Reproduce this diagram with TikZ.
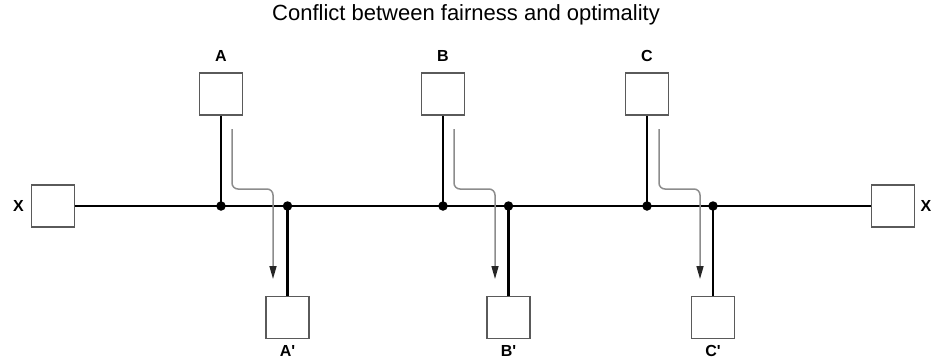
\documentclass[tikz,border=0pt]{standalone}
\usepackage{fontspec}
\setmainfont{Liberation Sans}
\usetikzlibrary{arrows.meta}
\definecolor{boxgray}{HTML}{5A5A5A}
\definecolor{flowgray}{HTML}{8C8C8C}
\begin{document}
\begin{tikzpicture}[x=1pt,y=-1pt,
  station/.style={draw=boxgray, line width=1.6pt, fill=white,
    minimum width=43pt, minimum height=42pt, inner sep=0pt},
  bus/.style={line width=2.2pt, draw=black},
  tap/.style={circle, fill=black, inner sep=0pt, minimum size=9.5pt},
  flow/.style={draw=flowgray, line width=1.5pt, rounded corners=6pt,
    -{Triangle[length=13pt,width=7pt,color=black!85]}},
  lbl/.style={font=\fontsize{16}{16}\selectfont\bfseries, inner sep=0pt}]
\useasboundingbox (0,0) rectangle (933,360);

% title
\node[font=\fontsize{22}{22}\selectfont, anchor=base] (title) at (466,20) {Conflict between fairness and optimality};

% end stations
\node[station] (X1) at (53,206) {};
\node[station] (X2) at (893,206) {};
\node[lbl] (lX1) at (18.5,206) {X};
\node[lbl] (lX2) at (926,206) {X};

% senders
\node[station] (A) at (221,94) {};
\node[station] (B) at (443,94) {};
\node[station] (C) at (647,94) {};
\node[lbl] (lA) at (221,56) {A};
\node[lbl] (lB) at (443,56) {B};
\node[lbl] (lC) at (647,56) {C};

% receivers
\node[station] (Ap) at (287.5,317.5) {};
\node[station] (Bp) at (508.5,317.5) {};
\node[station] (Cp) at (713,317.5) {};
\node[lbl] (lAp) at (287.5,351) {A\textquotesingle};
\node[lbl] (lBp) at (508.5,351) {B\textquotesingle};
\node[lbl] (lCp) at (713,351) {C\textquotesingle};

% bus taps
\coordinate (tA1) at (221,206);
\coordinate (tA2) at (287.5,206);
\coordinate (tB1) at (443,206);
\coordinate (tB2) at (508.5,206);
\coordinate (tC1) at (647,206);
\coordinate (tC2) at (713,206);

% shared bus
\draw[bus] (X1.east) -- (X2.west);
\draw[bus] (A.south) -- (tA1);
\draw[bus] (tA2) -- (Ap.north);
\draw[bus] (B.south) -- (tB1);
\draw[bus] (tB2) -- (Bp.north);
\draw[bus] (C.south) -- (tC1);
\draw[bus] (tC2) -- (Cp.north);

\foreach \t in {tA1,tA2,tB1,tB2,tC1,tC2}
  \node[tap] at (\t) {};

% traffic flows
\coordinate (fAs) at (232,129);
\coordinate (fAe) at (273,279);
\coordinate (fBs) at (454,129);
\coordinate (fBe) at (495,279);
\coordinate (fCs) at (659,129);
\coordinate (fCe) at (700,279);
\foreach \s/\e in {fAs/fAe,fBs/fBe,fCs/fCe}
  \draw[flow] (\s) -- (\s |- 0,189) -- (\e |- 0,189) -- (\e);
\end{tikzpicture}
\end{document}
